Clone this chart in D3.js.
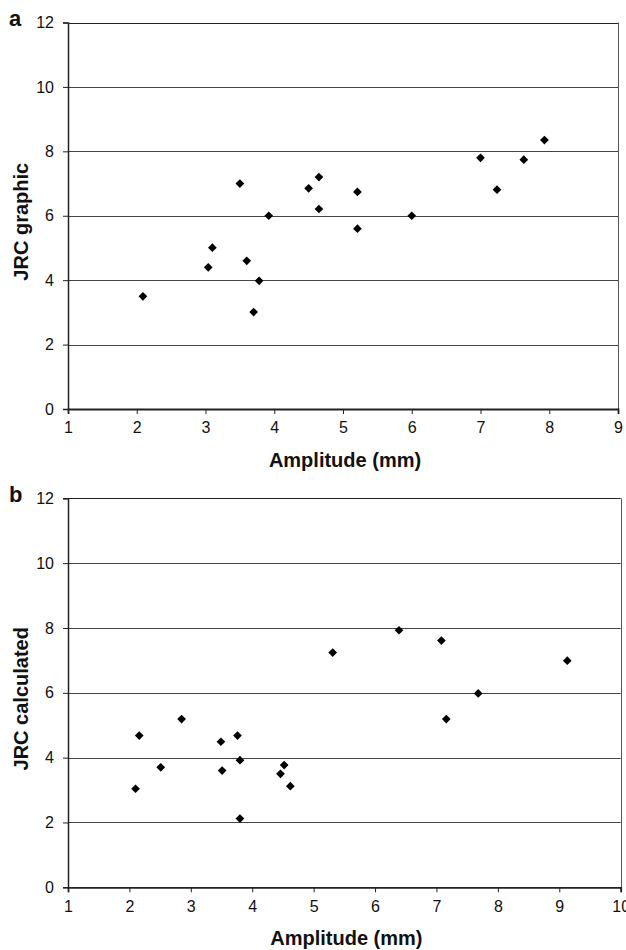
<!DOCTYPE html>
<html>
<head>
<meta charset="utf-8">
<script src="https://cdn.jsdelivr.net/npm/d3@7"></script>
<style>
  html, body { margin: 0; padding: 0; background: #fff; }
  svg { display: block; }
  text { font-family: "Liberation Sans", Arial, sans-serif; fill: #111; }
</style>
</head>
<body>
<svg id="chart" width="626" height="950"></svg>
<script>
// ---- Data ----
const amplitudeA = [2.09, 3.04, 3.10, 3.50, 3.60, 3.70, 3.78, 3.92, 4.50, 4.65, 4.65, 5.21, 5.21, 6.00, 7.00, 7.24, 7.63, 7.93];
const jrcGraphic = [3.50, 4.40, 5.01, 7.00, 4.60, 3.01, 3.98, 6.00, 6.85, 7.20, 6.21, 6.74, 5.60, 6.00, 7.80, 6.81, 7.74, 8.35];

const amplitudeB = [2.10, 2.16, 2.51, 2.85, 3.49, 3.51, 3.76, 3.80, 3.80, 4.46, 4.52, 4.62, 5.31, 6.39, 7.08, 7.16, 7.68, 9.13];
const jrcCalculated = [3.04, 4.68, 3.70, 5.19, 4.49, 3.60, 4.68, 3.92, 2.12, 3.50, 3.77, 3.12, 7.24, 7.93, 7.61, 5.19, 5.98, 6.99];

const yTicks = [0, 2, 4, 6, 8, 10, 12];
const xTicksA = [1, 2, 3, 4, 5, 6, 7, 8, 9];
const xTicksB = [1, 2, 3, 4, 5, 6, 7, 8, 9, 10];

const panels = [
  { letter: "a", xs: amplitudeA, ys: jrcGraphic, xDomain: [1, 9], xTicks: xTicksA,
    left: 68, right: 618, top: 22.5, bottom: 409,
    yTitle: "JRC graphic", xTitle: "Amplitude (mm)", letterY: 26 },
  { letter: "b", xs: amplitudeB, ys: jrcCalculated, xDomain: [1, 10], xTicks: xTicksB,
    left: 68, right: 620.7, top: 498.3, bottom: 887.3,
    yTitle: "JRC calculated", xTitle: "Amplitude (mm)", letterY: 502 }
];

const svg = d3.select("#chart");

panels.forEach(p => {
  const x = d3.scaleLinear().domain(p.xDomain).range([p.left, p.right]);
  const y = d3.scaleLinear().domain([0, 12]).range([p.bottom, p.top]);
  const g = svg.append("g");

  // grid lines
  g.append("g").selectAll("line").data(yTicks.filter(t => t > 0)).join("line")
    .attr("x1", p.left).attr("x2", p.right)
    .attr("y1", d => Math.round(y(d)) + 0.5).attr("y2", d => Math.round(y(d)) + 0.5)
    .attr("stroke", d => d === 12 ? "#222" : "#444").attr("stroke-width", 1);

  // right border
  g.append("line")
    .attr("x1", Math.round(p.right) + 0.5).attr("x2", Math.round(p.right) + 0.5)
    .attr("y1", y(12)).attr("y2", y(0))
    .attr("stroke", "#555").attr("stroke-width", 1);

  // y axis
  const yAxis = g.append("g")
    .attr("transform", `translate(${p.left},0)`)
    .call(d3.axisLeft(y).tickValues(yTicks).tickSize(5).tickPadding(9).tickFormat(d3.format("d")));
  yAxis.select(".domain").attr("stroke", "#222").attr("stroke-width", 1.5);
  yAxis.selectAll(".tick line").attr("stroke", "#222");
  yAxis.selectAll("text").style("font-size", "16px").style("font-family", "'Liberation Sans', Arial, sans-serif").attr("fill", "#111");

  // x axis
  const xAxis = g.append("g")
    .attr("transform", `translate(0,${p.bottom})`)
    .call(d3.axisBottom(x).tickValues(p.xTicks).tickSize(5).tickPadding(8).tickFormat(d3.format("d")));
  xAxis.select(".domain").attr("stroke", "#222").attr("stroke-width", 1.8);
  xAxis.selectAll(".tick line").attr("stroke", "#222");
  xAxis.selectAll("text").style("font-size", "16px").style("font-family", "'Liberation Sans', Arial, sans-serif").attr("fill", "#111");

  // points (diamonds)
  const sym = d3.symbol().type(d3.symbolSquare).size(38);
  g.append("g").selectAll("path").data(p.xs.map((v, i) => [v, p.ys[i]])).join("path")
    .attr("d", sym)
    .attr("transform", d => `translate(${x(d[0])},${y(d[1])}) rotate(45)`)
    .attr("fill", "#000");

  // titles
  g.append("text")
    .attr("x", (p.left + (p.right)) / 2 + 2)
    .attr("y", p.bottom + 58)
    .attr("text-anchor", "middle")
    .style("font-size", "20px").style("font-weight", "bold")
    .text(p.xTitle);

  g.append("text")
    .attr("transform", `translate(28,${(p.top + p.bottom) / 2 + 6}) rotate(-90)`)
    .attr("text-anchor", "middle")
    .style("font-size", "20px").style("font-weight", "bold")
    .text(p.yTitle);

  g.append("text")
    .attr("x", 9).attr("y", p.letterY)
    .style("font-size", "22px").style("font-weight", "bold")
    .text(p.letter);
});
</script>
</body>
</html>
